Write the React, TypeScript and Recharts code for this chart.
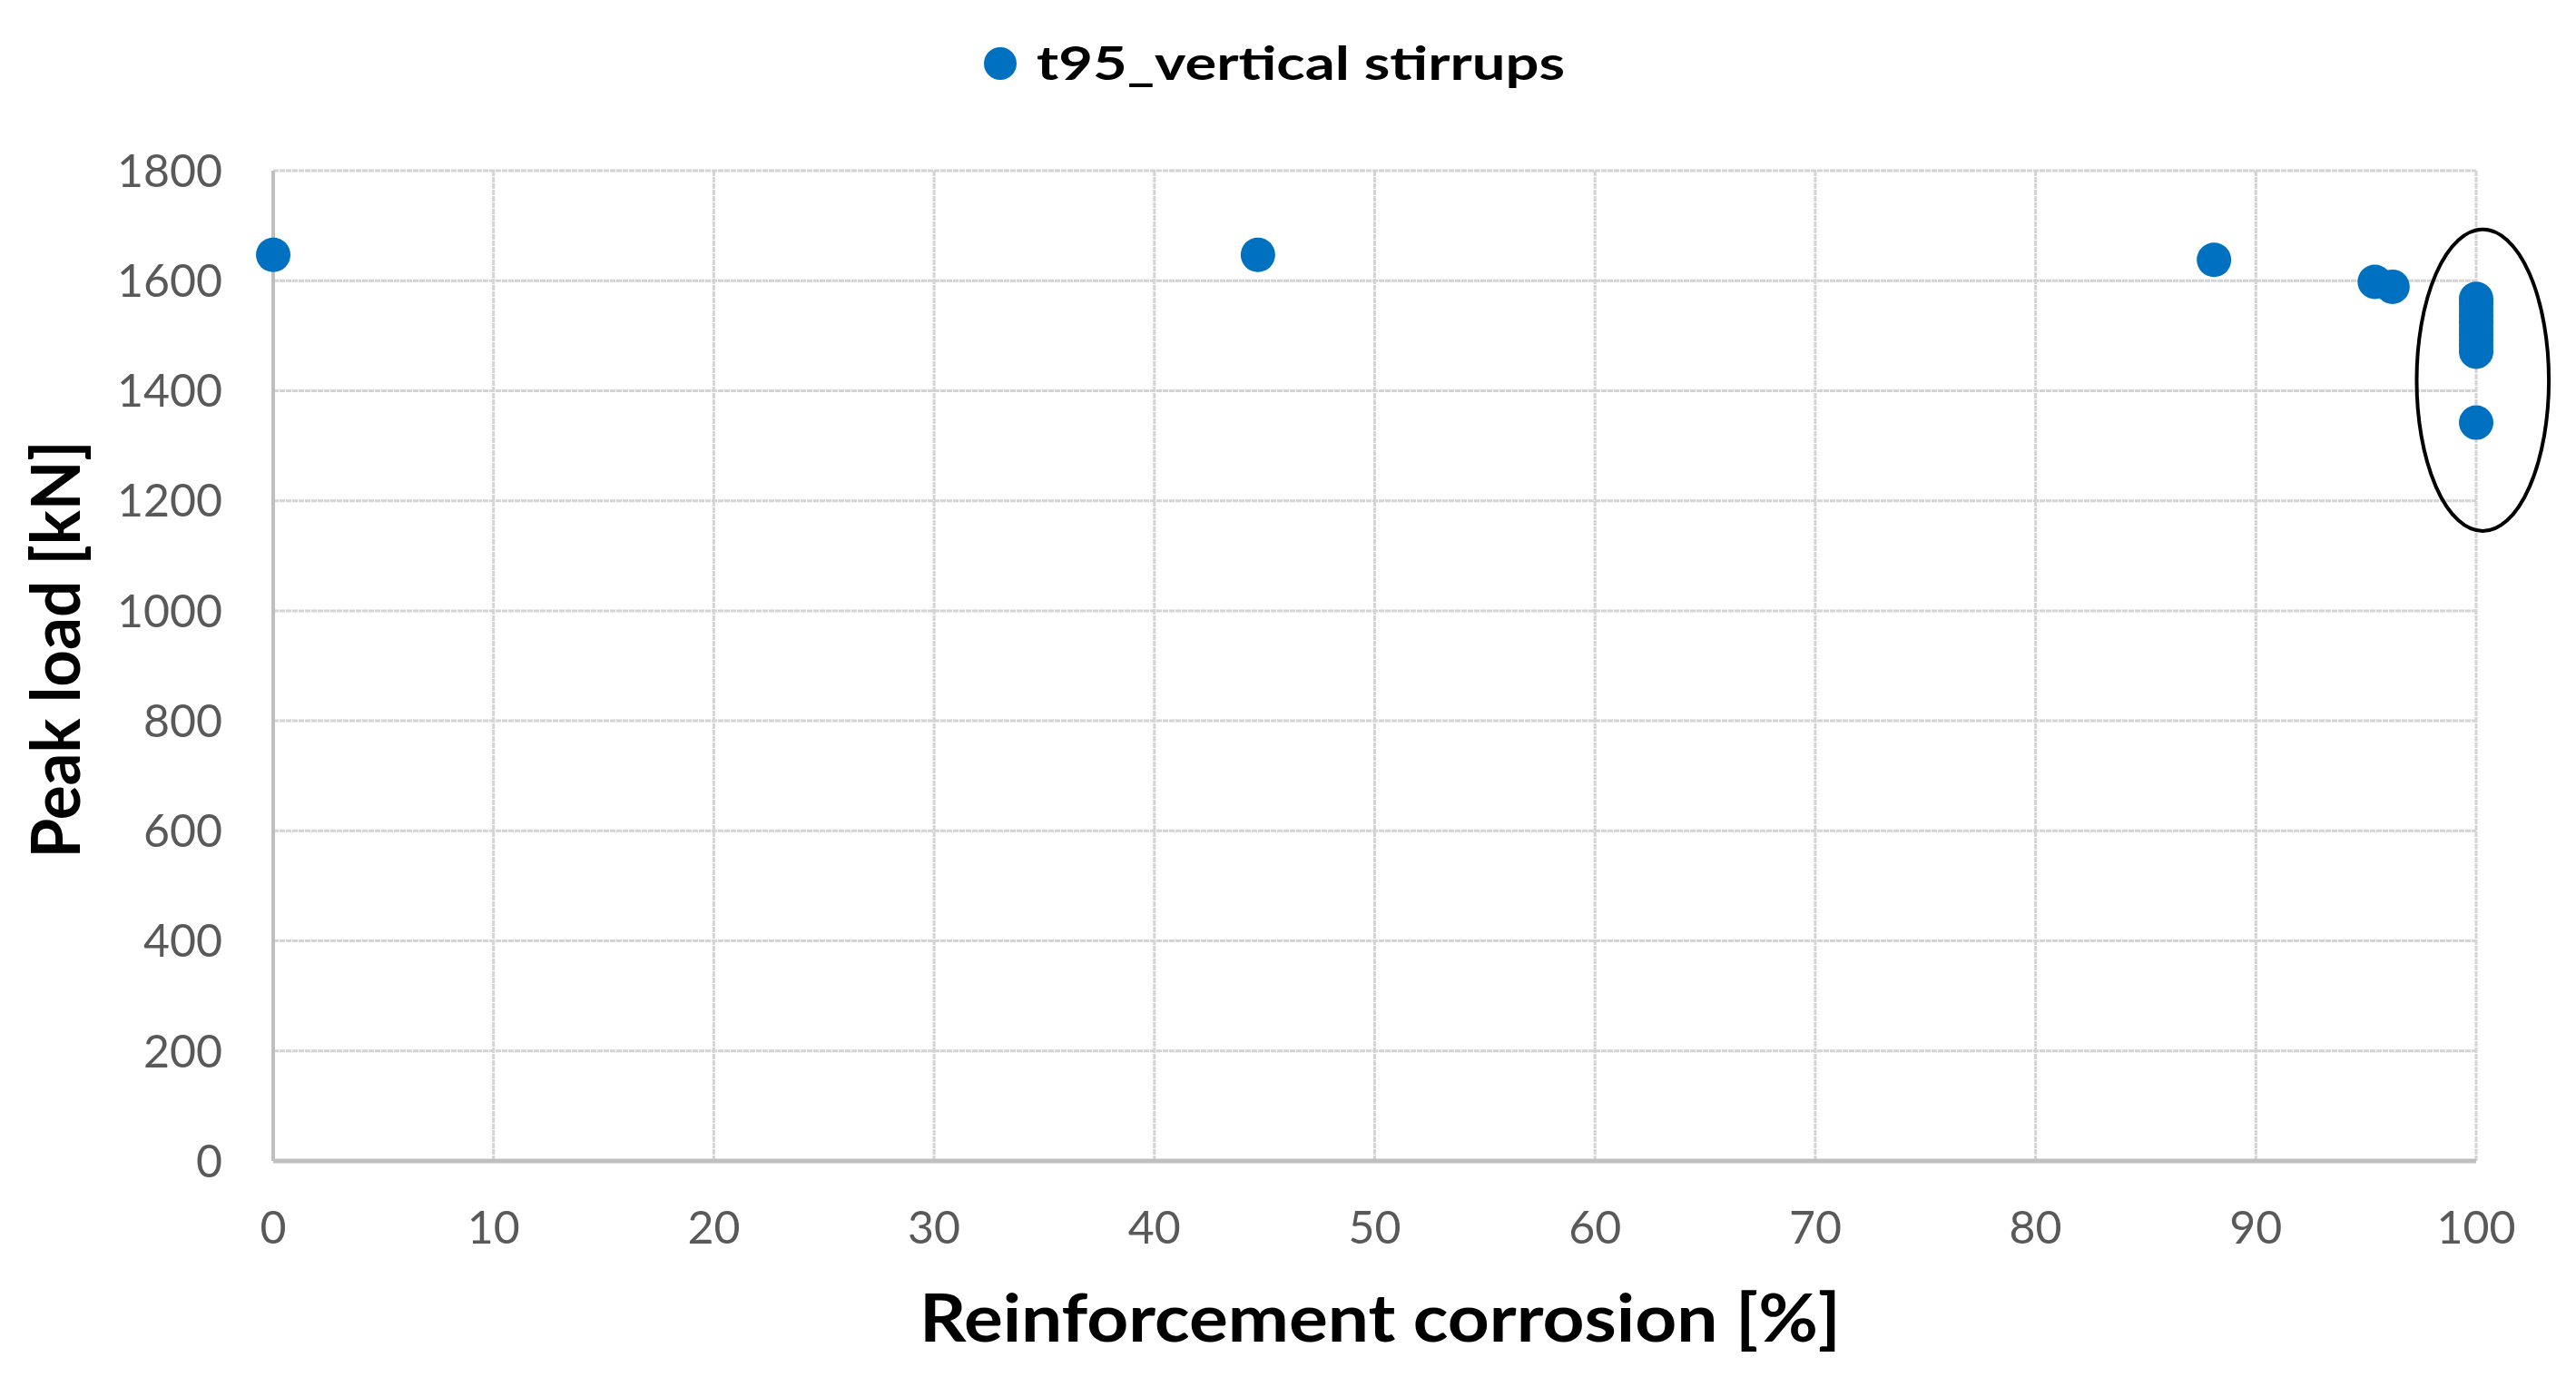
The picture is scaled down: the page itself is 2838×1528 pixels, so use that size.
import * as React from 'react';
import { ScatterChart, Scatter, XAxis, YAxis, CartesianGrid, Legend, Label, ReferenceArea } from 'recharts';

// values
const corrosion = [0, 44.7, 88.1, 95.4, 96.2, 100, 100, 100, 100, 100, 100, 100, 100, 100, 100, 100];
const peakLoad = [1647, 1647, 1638, 1598, 1589, 1567, 1557, 1546, 1535, 1524, 1513, 1502, 1492, 1481, 1471, 1342];
const xTicks = [0, 10, 20, 30, 40, 50, 60, 70, 80, 90, 100];
const yTicks = [0, 200, 400, 600, 800, 1000, 1200, 1400, 1600, 1800];
// ellipse drawn round the 100 % group
const ringX = [97.3, 103.3];
const ringY = [1145, 1693];

const seriesName = 't95_vertical stirrups';
const blue = '#0070C0';

const data = corrosion.map((x, i) => ({ x, y: peakLoad[i] }));

const Dot = (props: any) => <circle cx={props.cx} cy={props.cy} r={19} fill={blue} />;

const Ring = (props: any) => (
    <ellipse
        cx={props.x + props.width / 2}
        cy={props.y + props.height / 2}
        rx={Math.abs(props.width) / 2}
        ry={Math.abs(props.height) / 2}
        fill="none"
        stroke="#000"
        strokeWidth={4}
    />
);

const XTitle = (props: any) => {
    const vb = props.viewBox;
    return (
        <text
            x={vb.x + vb.width / 2 + 6}
            y={vb.y + 199}
            textAnchor="middle"
            fontFamily="Lato"
            fontWeight="bold"
            fontSize={72}
            fill="#000"
            textLength={1015}
            lengthAdjust="spacingAndGlyphs"
        >
            Reinforcement corrosion [%]
        </text>
    );
};

const YTitle = (props: any) => {
    const vb = props.viewBox;
    const x = vb.x + 88;
    const y = vb.y + vb.height / 2 - 18;
    return (
        <text
            x={x}
            y={y}
            transform={`rotate(-90 ${x} ${y})`}
            textAnchor="middle"
            fontFamily="Lato"
            fontWeight="bold"
            fontSize={74}
            fill="#000"
            textLength={460}
            lengthAdjust="spacingAndGlyphs"
        >
            Peak load [kN]
        </text>
    );
};

const LegendBox = () => (
    <svg width={2838} height={120}>
        <circle cx={1102} cy={70} r={18} fill={blue} />
        <text
            x={1142}
            y={88}
            fontFamily="Lato"
            fontWeight="bold"
            fontSize={51}
            fill="#000"
            textLength={582}
            lengthAdjust="spacingAndGlyphs"
        >
            {seriesName}
        </text>
    </svg>
);

const tickStyle = { fontFamily: 'Lato', fontSize: 50, fill: '#595959' };

export default function App() {
    return (
        <div style={{ position: 'absolute', left: 0, top: 0, background: '#fff' }}>
            <ScatterChart width={2838} height={1528} margin={{ top: 188, right: 110, left: 0, bottom: 0 }}>
                <CartesianGrid stroke="#d4d4d4" strokeWidth={3} strokeDasharray="6 1" />
                <XAxis
                    type="number"
                    dataKey="x"
                    domain={[0, 100]}
                    ticks={xTicks}
                    height={249}
                    tickLine={false}
                    tickSize={0}
                    tickMargin={55}
                    axisLine={{ stroke: '#bfbfbf', strokeWidth: 5 }}
                    tick={tickStyle}
                >
                    <Label content={<XTitle />} />
                </XAxis>
                <YAxis
                    type="number"
                    dataKey="y"
                    domain={[0, 1800]}
                    ticks={yTicks}
                    width={301}
                    tickLine={false}
                    tickSize={0}
                    tickMargin={56}
                    axisLine={{ stroke: '#bfbfbf', strokeWidth: 4 }}
                    tick={tickStyle}
                >
                    <Label content={<YTitle />} />
                </YAxis>
                <Legend
                    verticalAlign="middle"
                    align="center"
                    layout="horizontal"
                    wrapperStyle={{ top: 0, left: 0, width: 2838, height: 120 }}
                    content={<LegendBox />}
                />
                <ReferenceArea
                    x1={ringX[0]}
                    x2={ringX[1]}
                    y1={ringY[0]}
                    y2={ringY[1]}
                    ifOverflow="visible"
                    shape={<Ring />}
                />
                <Scatter name={seriesName} data={data} fill={blue} shape={<Dot />} isAnimationActive={false} />
            </ScatterChart>
        </div>
    );
}
